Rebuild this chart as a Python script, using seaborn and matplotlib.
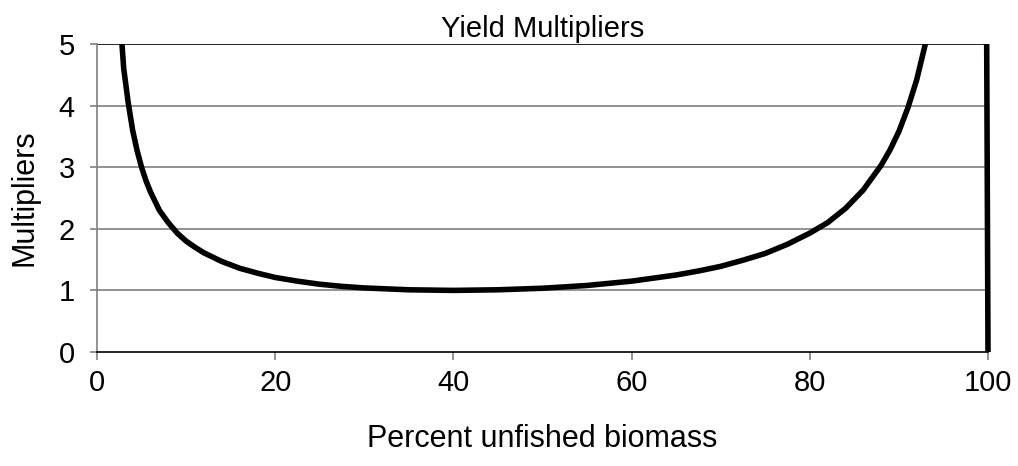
import numpy as np
import pandas as pd
import matplotlib
matplotlib.use('Agg')
import matplotlib.pyplot as plt
from matplotlib.patches import Rectangle
import seaborn as sns

# values
pct = [2, 2.5, 3, 3.5, 4, 4.5, 5, 5.5, 6, 7, 8, 9, 10, 11, 12, 14, 16, 18, 20,
       22.5, 25, 27.5, 30, 35, 40, 45, 50, 55, 60, 65, 67.5, 70, 72.5, 75,
       77.5, 80, 82, 84, 86, 88, 89, 90, 91, 92, 93, 94, 96, 98, 99, 100]
mult = [6.6, 5.6, 4.6, 4.05, 3.6, 3.27, 3.0, 2.78, 2.6, 2.3, 2.1, 1.93, 1.8,
        1.7, 1.61, 1.47, 1.36, 1.28, 1.21, 1.15, 1.10, 1.065, 1.04, 1.01, 1.0,
        1.01, 1.035, 1.08, 1.15, 1.25, 1.315, 1.39, 1.49, 1.6, 1.75, 1.93, 2.1,
        2.33, 2.63, 3.03, 3.28, 3.58, 3.96, 4.42, 5.02, 5.8, 8.6, 17.0, 34.0, 0]
yticks = [0, 1, 2, 3, 4, 5]
xticks = [0, 20, 40, 60, 80, 100]

df = pd.DataFrame({'pct': pct, 'mult': mult})

sns.set_style('white')
plt.rcParams['font.family'] = ['Liberation Sans', 'DejaVu Sans']
plt.rcParams['text.color'] = 'black'
plt.rcParams['axes.labelcolor'] = 'black'
plt.rcParams['xtick.labelcolor'] = 'black'
plt.rcParams['ytick.labelcolor'] = 'black'

fig = plt.figure(figsize=(10.18, 4.66), dpi=100)
ax = fig.add_axes([97/1018, 1-352/466, 891/1018, 308/466])

ax.set_xlim(0, 100)
ax.set_ylim(0, 5)
ax.set_yticks(yticks)
ax.set_xticks(xticks)

# gridlines, top one black like the reference
for y in yticks[1:-1]:
    ax.axhline(y, color='#808080', lw=1.2, zorder=1)
ax.axhline(5, color='black', lw=1.2, zorder=1)

sns.lineplot(data=df, x='pct', y='mult', sort=False, color='black', lw=4,
             ax=ax, zorder=3)
line = ax.lines[-1]
line.set_solid_joinstyle('round')
line.set_clip_path(Rectangle((0, 0), 1.004, 1.0, transform=ax.transAxes))

for s in ['top', 'right']:
    ax.spines[s].set_visible(False)
ax.spines['left'].set_color('#808080')
ax.spines['left'].set_linewidth(1.2)
ax.spines['bottom'].set_color('black')
ax.spines['bottom'].set_linewidth(1.2)

ax.tick_params(axis='x', direction='out', length=6, width=1.2, color='#808080',
               labelsize=21, pad=6, bottom=True)
ax.tick_params(axis='y', direction='out', length=5, width=1.2, color='#808080',
               labelsize=21, pad=11, left=True)

ax.set_title('Yield Multipliers', fontsize=21, pad=5)
ax.set_xlabel('Percent unfished biomass', fontsize=22)
ax.set_ylabel('Multipliers', fontsize=22)
ax.xaxis.set_label_coords(0.5, -0.235)
ax.yaxis.set_label_coords(-0.064, 0.5)

fig.savefig('out.png', dpi=100)
